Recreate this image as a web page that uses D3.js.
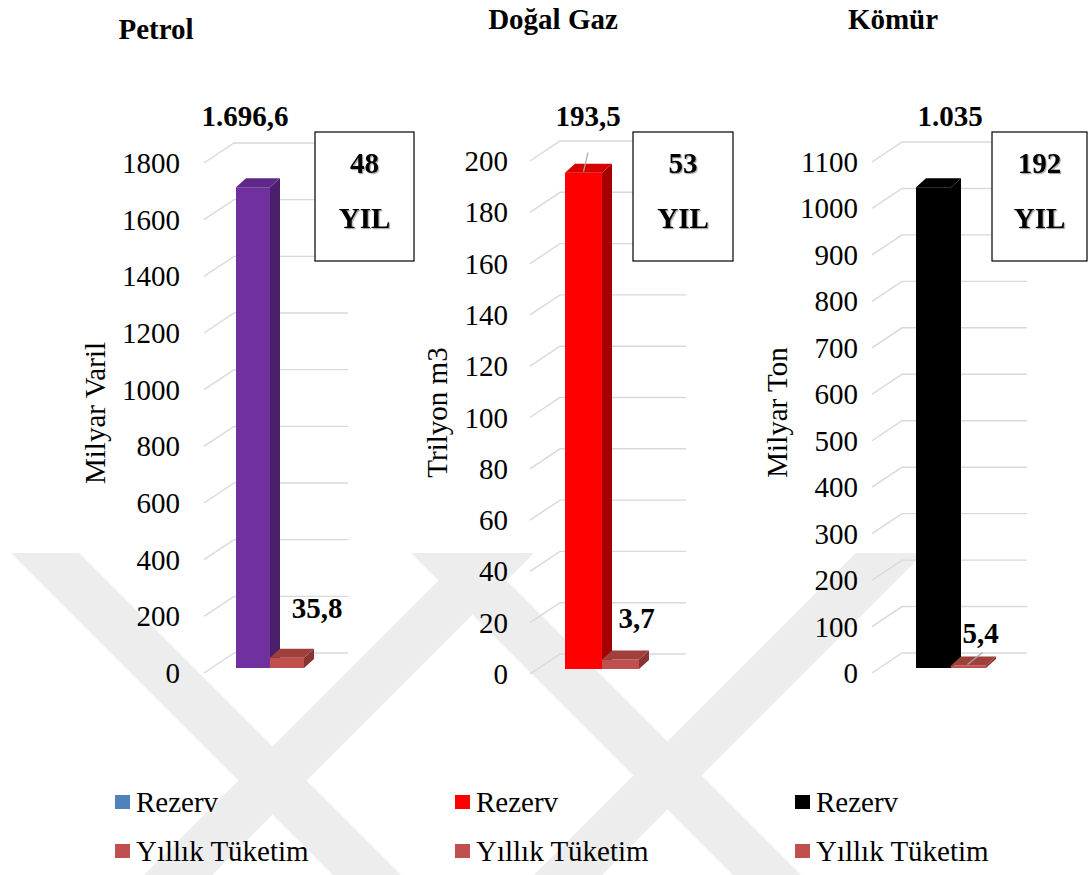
<!DOCTYPE html>
<html>
<head>
<meta charset="utf-8">
<script src="https://cdnjs.cloudflare.com/ajax/libs/d3/7.8.5/d3.min.js"></script>
<style>
  body { margin: 0; background: #fff; }
  svg { display: block; }
</style>
</head>
<body>
<svg id="chart" width="1088" height="875"></svg>
<script>
// ---- data ----
const categories = ["Petrol", "Doğal Gaz", "Kömür"];
const seriesNames = ["Rezerv", "Yıllık Tüketim"];
const reserveValues = [1696.6, 193.5, 1035];
const consumptionValues = [35.8, 3.7, 5.4];
const yearsLeft = [48, 53, 192];
const yearUnit = "YIL";
const axisTitles = ["Milyar Varil", "Trilyon m3", "Milyar Ton"];
const axisMax = [1800, 200, 1100];
const axisStep = [200, 20, 100];

// ---- styles ----
const FONT = "'Liberation Serif', 'Times New Roman', serif";
const reserveFront = ["#7030a0", "#ff0000", "#000000"];
const reserveSide  = ["#4a1f6b", "#a50000", "#000000"];
const reserveTop   = ["#5e2889", "#d60000", "#000000"];
const legendReserve = ["#4f81bd", "#ff0000", "#000000"];
const consFront = "#c0504d", consSide = "#8a3533", consTop = "#a0403d";
const gridColor = "#d9d9d9";
const FS = 29;
const DEPTH = { dx: 10, dy: -9 };

// ---- panel placement ----
const layout = [
  { tickX: 180, gridX: 204, gridEnd: 348, barX: 236, barW: 34, yBase: 668, yTop: 158,
    titleX: 156, titleY: 29, axisTitleX: 95, valueX: 245, consDX: 30, consDY: -50,
    box: [315, 132, 99, 129], reserveLeader: false, consLeader: false, legendX: 115 },
  { tickX: 508, gridX: 530, gridEnd: 686, barX: 565, barW: 37, yBase: 669, yTop: 156,
    titleX: 553, titleY: 19, axisTitleX: 437, valueX: 588, consDX: 16, consDY: -42,
    box: [633, 132, 100, 129], reserveLeader: true, consLeader: false, legendX: 455 },
  { tickX: 858, gridX: 872, gridEnd: 1027, barX: 916, barW: 35, yBase: 668, yTop: 157,
    titleX: 893, titleY: 19, axisTitleX: 777, valueX: 950, consDX: 12, consDY: -32,
    box: [992, 132, 95, 129], reserveLeader: false, consLeader: true, legendX: 795 }
];

const trLocale = d3.formatLocale({ decimal: ",", thousands: ".", grouping: [3], currency: ["", " ₺"] });
const fmtValue = trLocale.format(",");

const svg = d3.select("#chart").attr("font-family", FONT);

const defs = svg.append("defs");
defs.append("filter").attr("id", "soft").attr("x", "-20%").attr("y", "-20%").attr("width", "140%").attr("height", "140%")
  .append("feDropShadow").attr("dx", 1.2).attr("dy", 1.2).attr("stdDeviation", 0.6)
  .attr("flood-color", "#000").attr("flood-opacity", 0.35);

// faint page emblem behind the charts: crossing diagonal ribbons
const ribbons = [
  { top: 45, slope: 1.0 }, { top: 500, slope: -1.0 },
  { top: 445, slope: 1.0 }, { top: 890, slope: -1.0 }
];
const rTop = 553, rBottom = 875, rHalf = 34;
svg.append("g").selectAll("path").data(ribbons).join("path")
  .attr("d", r => {
    const xb = r.top + r.slope * (rBottom - rTop);
    return `M${r.top - rHalf},${rTop}H${r.top + rHalf}L${xb + rHalf},${rBottom}H${xb - rHalf}Z`;
  })
  .attr("fill", "#ededed");

function boxPaths(x, w, yv, y0) {
  const { dx, dy } = DEPTH;
  return {
    front: `M${x},${yv}H${x + w}V${y0}H${x}Z`,
    top: `M${x},${yv}L${x + dx},${yv + dy}H${x + w + dx}L${x + w},${yv}Z`,
    side: `M${x + w},${yv}L${x + w + dx},${yv + dy}V${y0 + dy}L${x + w},${y0}Z`
  };
}

categories.forEach((cat, i) => {
  const L = layout[i];
  const g = svg.append("g").attr("class", "panel");

  const y = d3.scaleLinear().domain([0, axisMax[i]]).range([L.yBase, L.yTop]);
  const x = d3.scaleBand().domain(seriesNames).range([L.barX, L.barX + 2 * L.barW]).padding(0);
  const ticks = d3.range(0, axisMax[i] + axisStep[i] / 2, axisStep[i]);

  // gridlines: short floor diagonal then back-wall line
  g.append("g").selectAll("path").data(ticks).join("path")
    .attr("d", v => `M${L.gridX},${y(v) + 5}L${L.gridX + 30},${y(v) - 15}H${L.gridEnd}`)
    .attr("fill", "none").attr("stroke", gridColor).attr("stroke-width", 1.4);

  // tick labels
  g.append("g").selectAll("text").data(ticks).join("text")
    .attr("x", L.tickX).attr("y", v => y(v) + 5)
    .attr("text-anchor", "end").attr("dominant-baseline", "central")
    .attr("font-size", FS).text(v => v);

  // axis title
  g.append("text")
    .attr("transform", `translate(${L.axisTitleX},${(L.yBase + L.yTop) / 2}) rotate(-90)`)
    .attr("text-anchor", "middle").attr("dominant-baseline", "central")
    .attr("font-size", FS).text(axisTitles[i]);

  // reserve bar
  const y0 = y(0);
  const rv = reserveValues[i];
  const rb = boxPaths(x("Rezerv"), x.bandwidth(), y(rv), y0);
  g.append("path").attr("d", rb.front).attr("fill", reserveFront[i]);
  g.append("path").attr("d", rb.side).attr("fill", reserveSide[i]);
  g.append("path").attr("d", rb.top).attr("fill", reserveTop[i]);

  // annual consumption bar
  const cv = consumptionValues[i];
  const cb = boxPaths(x("Yıllık Tüketim"), x.bandwidth(), y(cv), y0);
  g.append("path").attr("d", cb.front).attr("fill", consFront);
  g.append("path").attr("d", cb.side).attr("fill", consSide);
  g.append("path").attr("d", cb.top).attr("fill", consTop);

  // reserve value label (placed above the plot area)
  g.append("text").attr("x", L.valueX).attr("y", 116)
    .attr("text-anchor", "middle").attr("dominant-baseline", "central")
    .attr("font-size", FS).attr("font-weight", "bold").text(fmtValue(rv));
  if (L.reserveLeader) {
    const cx = x("Rezerv") + x.bandwidth() / 2;
    g.append("line").attr("x1", L.valueX).attr("y1", y(rv) - 20).attr("x2", cx).attr("y2", y(rv) - 1)
      .attr("stroke", "#a6a6a6").attr("stroke-width", 1.2);
  }

  // consumption value label
  const ccx = x("Yıllık Tüketim") + x.bandwidth() / 2;
  g.append("text").attr("x", ccx + L.consDX).attr("y", y(cv) + L.consDY)
    .attr("text-anchor", "middle").attr("dominant-baseline", "central")
    .attr("font-size", FS).attr("font-weight", "bold").text(fmtValue(cv));
  if (L.consLeader) {
    g.append("line").attr("x1", ccx + 14).attr("y1", y(cv) - 13).attr("x2", ccx - 1).attr("y2", y(cv) - 1)
      .attr("stroke", "#a6a6a6").attr("stroke-width", 1.2);
  }

  // remaining-years box
  const [bx, by, bw, bh] = L.box;
  g.append("rect").attr("x", bx).attr("y", by).attr("width", bw).attr("height", bh)
    .attr("fill", "#fff").attr("stroke", "#000").attr("stroke-width", 1.2);
  g.append("text").attr("x", bx + bw / 2).attr("y", 163)
    .attr("text-anchor", "middle").attr("dominant-baseline", "central")
    .attr("font-size", FS).attr("font-weight", "bold").attr("filter", "url(#soft)").text(yearsLeft[i]);
  g.append("text").attr("x", bx + bw / 2).attr("y", 218)
    .attr("text-anchor", "middle").attr("dominant-baseline", "central")
    .attr("font-size", FS).attr("font-weight", "bold").attr("filter", "url(#soft)").text(yearUnit);

  // panel title
  g.append("text").attr("x", L.titleX).attr("y", L.titleY)
    .attr("text-anchor", "middle").attr("dominant-baseline", "central")
    .attr("font-size", FS).attr("font-weight", "bold").text(cat);

  // legend
  const legendColors = [legendReserve[i], consFront];
  const lg = g.append("g").selectAll("g").data(seriesNames).join("g")
    .attr("transform", (d, k) => `translate(${L.legendX},${802 + k * 49})`);
  lg.append("rect").attr("x", 0).attr("y", -7).attr("width", 15).attr("height", 14)
    .attr("fill", (d, k) => legendColors[k]);
  lg.append("text").attr("x", 21).attr("y", 0).attr("dominant-baseline", "central")
    .attr("font-size", FS).text(d => d);
});
</script>
</body>
</html>
